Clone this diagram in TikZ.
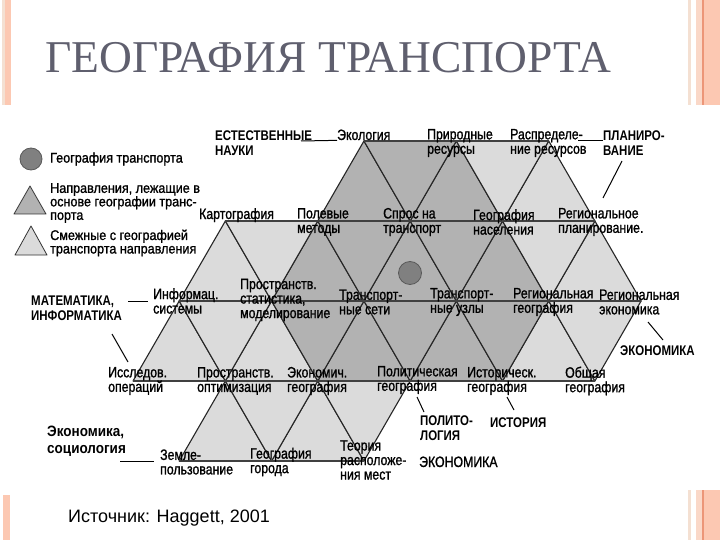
\documentclass[tikz,border=0pt]{standalone}
\usepackage{fontspec}
\usepackage{xcolor}
\setmainfont{Liberation Sans}
\newfontfamily\fuentetema[FakeStretch=0.82, UprightFeatures={FakeBold=1.2}]{Liberation Sans}
\newfontfamily\fuenteley[FakeStretch=0.9, UprightFeatures={FakeBold=1.2}]{Liberation Sans}
\newfontfamily\fuentetitulo{Liberation Serif}
\definecolor{gristitulo}{RGB}{95,95,110}
\definecolor{grismedio}{gray}{0.70}
\definecolor{grisclaro}{gray}{0.86}
\definecolor{griscirculo}{gray}{0.50}
\definecolor{franja}{RGB}{252,200,178}
\definecolor{franjarosa}{RGB}{250,216,200}
\definecolor{franjaosc}{RGB}{236,150,120}
\definecolor{franjaclara}{RGB}{244,224,210}

\begin{document}
\begin{tikzpicture}[   % opciones por defecto
      x=1pt, y=-1pt,     % un punto por pixel, y hacia abajo
      line join=round,   % esquinas redondeadas
      font=\fuentetema\fontsize{15}{14.5}\selectfont
    ]
    \tikzstyle{tema}=[inner sep=0pt, align=left, anchor=west, font=\fuentetema\fontsize{15}{14.5}\selectfont];
    \tikzstyle{area}=[inner sep=0pt, align=left, anchor=west, font=\fuentetema\bfseries\fontsize{14}{15}\selectfont];
    \tikzstyle{leyenda}=[inner sep=0pt, align=left, anchor=west, font=\fuenteley\fontsize{14}{13.5}\selectfont];
    \tikzstyle{tri}=[draw=black!85, line width=1.1pt];
    \tikzstyle{horiz}=[draw=black!75, line width=1.9pt];
    \tikzstyle{guia}=[draw=black, line width=1pt];
    %
    \useasboundingbox (0,0) rectangle (720,540);
    \fill[white] (0,0) rectangle (720,540);
    %
    % franjas laterales
    \fill[franjaclara] (2,0) rectangle (5,105);
    \fill[franja] (5,0) rectangle (11,105);
    \fill[franja] (3,495) rectangle (10,540);
    \foreach \ya/\yb in {0/105, 490/540} {
      \fill[franjaclara] (688,\ya) rectangle (691,\yb);
      \fill[franjarosa] (696,\ya) rectangle (702,\yb);
      \fill[franjaosc] (702,\ya) rectangle (703.5,\yb);
      \fill[franja] (703.5,\ya) rectangle (720,\yb);
    }
    %
    % titulo
    \node[anchor=base west, inner sep=0pt, text=gristitulo,
      font=\fuentetitulo\fontsize{45.5}{45.5}\selectfont] (titulo) at (45,73) {ГЕОГРАФИЯ ТРАНСПОРТА};
    %
    % red de vertices
    \foreach \r in {0,...,4}
      \foreach \i in {0,...,11}
        \coordinate (v\r-\i) at ({133+46.19*\i},{141+80*\r});
    %
    % triangulos con el vertice arriba
    \foreach \r/\i/\c [evaluate=\r as \s using int(\r+1),
                       evaluate=\i as \a using int(\i-1),
                       evaluate=\i as \b using int(\i+1)] in
      {0/5/grismedio, 0/7/grismedio, 0/9/grisclaro,
       1/2/grisclaro, 1/4/grismedio, 1/6/grismedio, 1/8/grismedio, 1/10/grisclaro,
       2/1/grisclaro, 2/3/grisclaro, 2/5/grismedio, 2/7/grismedio, 2/9/grisclaro,
       3/2/grisclaro, 3/4/grisclaro}
      \filldraw[tri, fill=\c] (v\r-\i) -- (v\s-\a) -- (v\s-\b) -- cycle;
    %
    % triangulos con el vertice abajo
    \foreach \r/\i/\c [evaluate=\r as \s using int(\r+1),
                       evaluate=\i as \a using int(\i-1),
                       evaluate=\i as \b using int(\i+1)] in
      {0/6/grismedio, 0/8/grisclaro,
       1/3/grisclaro, 1/5/grismedio, 1/7/grismedio, 1/9/grisclaro,
       2/2/grisclaro, 2/4/grismedio, 2/6/grismedio, 2/8/grismedio, 2/10/grisclaro,
       3/3/grisclaro, 3/5/grisclaro}
      \filldraw[tri, fill=\c] (v\r-\a) -- (v\r-\b) -- (v\s-\i) -- cycle;
    %
    % lineas horizontales
    \foreach \r/\a/\b in {0/5/9, 1/2/10, 2/1/11, 3/0/10, 4/1/5}
      \draw[horiz] (v\r-\a) -- (v\r-\b);
    %
    % nodo central
    \node[circle, fill=griscirculo, draw=black!65, line width=0.8pt,
      minimum size=23pt, inner sep=0pt] (geotrans) at (410,273) {};
    %
    % leyenda
    \node[circle, fill=griscirculo, draw=black!65, line width=0.8pt,
      minimum size=22pt, inner sep=0pt] (ley0) at (31,159) {};
    \node[leyenda] (ley0t) at (50,159) {География транспорта};
    \filldraw[draw=black!80, line width=0.8pt, fill=grismedio] (30,186) -- (14,214) -- (46,214) -- cycle;
    \node[leyenda] (ley1t) at (50,203) {Направления, лежащие в\\основе географии транс-\\порта};
    \filldraw[draw=black!80, line width=0.8pt, fill=grisclaro] (31,226) -- (15,255) -- (47,255) -- cycle;
    \node[leyenda] (ley2t) at (50,243) {Смежные с географией\\транспорта направления};
    %
    % etiquetas fila 0
    \node[area] (nat) at (215,143) {ЕСТЕСТВЕННЫЕ\\НАУКИ};
    \node[tema, anchor=base west] (eco) at (337,140) {Экология};
    \node[tema] (prir) at (427,143) {Природные\\ресурсы};
    \node[tema] (raspr) at (510,143) {Распределе-\\ние ресурсов};
    \node[area] (plan) at (603,143) {ПЛАНИРО-\\ВАНИЕ};
    %
    % etiquetas fila 1
    \node[tema, anchor=base west] (kart) at (199,219) {Картография};
    \node[tema] (pol) at (297,222) {Полевые\\методы};
    \node[tema] (spros) at (383,222) {Спрос на\\транспорт};
    \node[tema] (nasel) at (473,222) {География\\населения};
    \node[tema] (regpl) at (558,222) {Региональное\\планирование.};
    %
    % etiquetas fila 2
    \node[area] (mat) at (31,308) {МАТЕМАТИКА,\\ИНФОРМАТИКА};
    \node[tema] (inf) at (153,301) {Информац.\\системы};
    \node[tema] (prst) at (240,300) {Пространств.\\статистика,\\моделирование};
    \node[tema] (tset) at (339,302) {Транспорт-\\ные сети};
    \node[tema] (tuzl) at (430,302) {Транспорт-\\ные узлы};
    \node[tema] (reggeo) at (513,302) {Региональная\\география};
    \node[tema] (regek) at (599,302) {Региональная\\экономика};
    \node[area, anchor=base west] (ekon1) at (620,355) {ЭКОНОМИКА};
    %
    % etiquetas fila 3
    \node[tema] (issl) at (108,381) {Исследов.\\операций};
    \node[tema] (popt) at (197,381) {Пространств.\\оптимизация};
    \node[tema] (ekgeo) at (287,381) {Экономич.\\география};
    \node[tema] (polgeo) at (377,380) {Политическая\\география};
    \node[tema] (istgeo) at (467,381) {Историческ.\\география};
    \node[tema] (obsh) at (565,381) {Общая\\география};
    \node[area] (polit) at (420,428) {ПОЛИТО-\\ЛОГИЯ};
    \node[area, anchor=base west] (istor) at (490,427) {ИСТОРИЯ};
    %
    % etiquetas fila 4
    \node[area, font=\fuenteley\bfseries\fontsize{15}{17}\selectfont] (ekso) at (47,441) {Экономика,\\социология};
    \node[tema] (zeml) at (160,462) {Земле-\\пользование};
    \node[tema] (gorod) at (250,462) {География\\города};
    \node[tema] (teor) at (340,460) {Теория\\расположе-\\ния мест};
    \node[tema, anchor=base west] (ekon2) at (419,467) {ЭКОНОМИКА};
    %
    % lineas guia
    \coordinate (g1) at (301,141);
    \draw[guia] (g1) -- (eco.south west);
    \coordinate (g2) at (578,141);
    \draw[guia] (g2) -- (plan.west |- g2);
    \coordinate (g3a) at (622,161);
    \coordinate (g3b) at (603,198);
    \draw[guia] (g3a) -- (g3b);
    \coordinate (g4) at (128,301);
    \draw[guia, shorten >=5pt] (g4) -- (inf.west |- g4);
    \coordinate (g5a) at (112,334);
    \coordinate (g5b) at (128,362);
    \draw[guia] (g5a) -- (g5b);
    \coordinate (g6a) at (648,322);
    \coordinate (g6b) at (663,340);
    \draw[guia] (g6a) -- (g6b);
    \coordinate (g7a) at (417,397);
    \coordinate (g7b) at (424,412);
    \draw[guia] (g7a) -- (g7b);
    \coordinate (g8a) at (507,397);
    \coordinate (g8b) at (514,410);
    \draw[guia] (g8a) -- (g8b);
    \coordinate (g9) at (120,461);
    \draw[guia, shorten >=6pt] (g9) -- (zeml.west |- g9);
    %
    % fuente
    \node[anchor=base west, inner sep=0pt, font=\fontsize{18}{18}\selectfont] (fuente) at (68,522) {Источник: Haggett, 2001};
  \end{tikzpicture}
\end{document}
